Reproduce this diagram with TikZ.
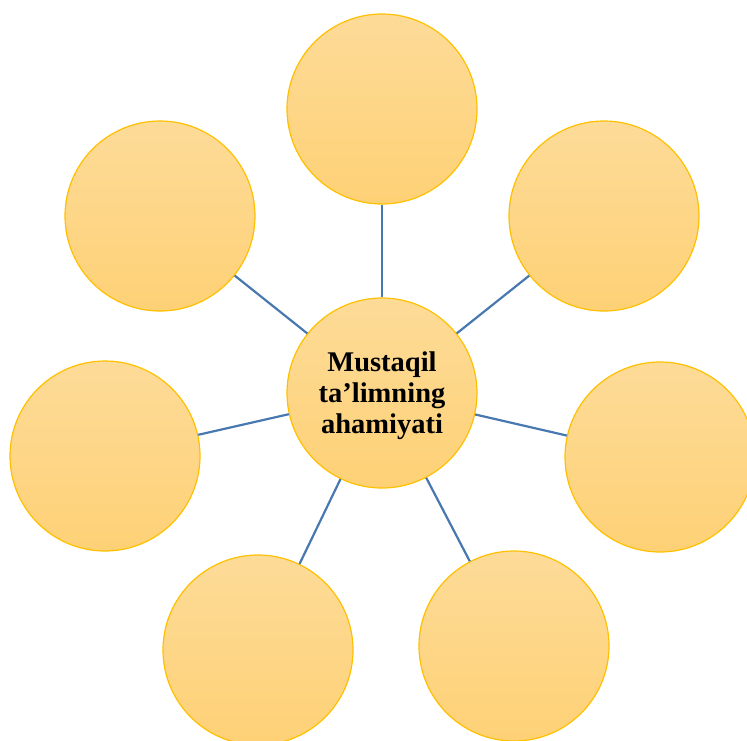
\documentclass[tikz,border=0pt]{standalone}
\usepackage{fontspec}
\setmainfont{Liberation Serif}
\definecolor{circtop}{RGB}{253,219,152}
\definecolor{circbot}{RGB}{254,209,118}
\definecolor{circline}{RGB}{255,192,0}
\definecolor{linkblue}{RGB}{72,120,176}
\begin{document}
\begin{tikzpicture}[x=1pt,y=-1pt,
  bubble/.style={circle, minimum size=190pt, inner sep=0pt, draw=circline, line width=1.2pt, top color=circtop, bottom color=circbot},
  link/.style={draw=linkblue, line width=2.2pt},
  title/.style={font=\fontsize{28.5}{31}\selectfont\bfseries, align=center, text=black}]
\clip (0,0) rectangle (747,740);
\node[bubble] (c) at (382,393) {};
\node[bubble] (t) at (382,109) {};
\node[bubble] (ul) at (160,216) {};
\node[bubble] (ur) at (604,216) {};
\node[bubble] (l) at (105,456) {};
\node[bubble] (r) at (660,457) {};
\node[bubble] (bl) at (258,650) {};
\node[bubble] (br) at (514,646) {};
\foreach \n in {t,ul,ur,l,r,bl,br}{\draw[link] (c) -- (\n);}
\node[title] (lbl) at (382,396) {Mustaqil\\ta’limning\\ahamiyati};
\end{tikzpicture}
\end{document}
